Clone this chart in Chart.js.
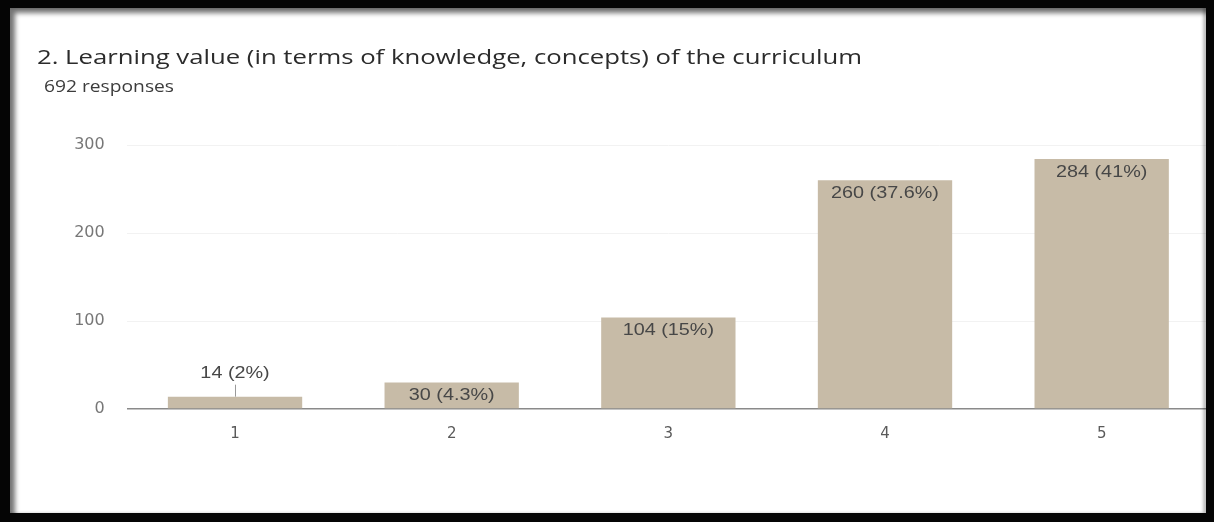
<!DOCTYPE html>
<html>
<head>
<meta charset="utf-8">
<script src="https://cdn.jsdelivr.net/npm/chart.js@4.4.1/dist/chart.umd.min.js"></script>
<style>
  html, body { margin: 0; padding: 0; background: #fff; }
  #wrap { position: relative; width: 1214px; height: 522px; overflow: hidden; background: #fff; }
  #c { position: absolute; left: 0; top: 0; }
  #frame {
    position: absolute; left: 0; top: 0; width: 1214px; height: 522px; box-sizing: border-box;
    border-style: solid; border-color: #050505;
    border-width: 8px 8px 9px 10px;
    box-shadow: inset 5px 5px 5px rgba(0,0,0,0.55), inset -3px 0 3px rgba(0,0,0,0.25);
    pointer-events: none;
  }
  .preload { position: absolute; left: -9999px; top: 0; }
</style>
</head>
<body>
<div id="wrap">
  <canvas id="c" width="1214" height="522"></canvas>
  <div id="frame"></div>
</div>
<span class="preload" style="font-family:'Open Sans'">Aa</span>
<span class="preload" style="font-family:'Liberation Sans'">Aa</span>
<span class="preload" style="font-family:'DejaVu Sans'">Aa</span>
<script>
// ---- data ----
const titleText = '2. Learning value (in terms of knowledge, concepts) of the curriculum';
const subtitleText = '692 responses';
const categories = ['1', '2', '3', '4', '5'];
const counts = [14, 30, 104, 260, 284];
const percentLabels = ['2%', '4.3%', '15%', '37.6%', '41%'];
const yTickValues = [0, 100, 200, 300];

// ---- header plugin (title + subtitle) ----
const headerPlugin = {
  id: 'header',
  afterDraw(chart) {
    const ctx = chart.ctx;
    function drawStretched(text, font, color, x, baseline, targetWidth) {
      ctx.save();
      ctx.font = font;
      ctx.fillStyle = color;
      ctx.textAlign = 'left';
      ctx.textBaseline = 'alphabetic';
      const w = ctx.measureText(text).width;
      const sx = targetWidth / w;
      ctx.translate(x, baseline);
      ctx.scale(sx, 1);
      ctx.fillText(text, 0, 0);
      ctx.restore();
    }
    drawStretched(titleText, '400 20.5px "Open Sans"', '#2b2b2b', 37, 64, 825);
    drawStretched(subtitleText, '400 15.5px "Open Sans"', '#3c3c3c', 44, 92, 130);
  }
};

// ---- value labels ----
const valueLabelPlugin = {
  id: 'valueLabels',
  afterDatasetsDraw(chart) {
    const ctx = chart.ctx;
    const meta = chart.getDatasetMeta(0);
    meta.data.forEach((el, i) => {
      const text = counts[i] + ' (' + percentLabels[i] + ')';
      const h = el.base - el.y;
      let cy;
      ctx.save();
      if (h < 20) {
        cy = el.y - 23;
        ctx.strokeStyle = '#9a9a9a';
        ctx.lineWidth = 1;
        ctx.beginPath();
        ctx.moveTo(Math.round(el.x) + 0.5, el.y - 12);
        ctx.lineTo(Math.round(el.x) + 0.5, el.y);
        ctx.stroke();
      } else {
        cy = el.y + 13;
      }
      ctx.font = '16.5px "Liberation Sans", Arial, sans-serif';
      ctx.fillStyle = '#474747';
      ctx.textAlign = 'center';
      ctx.textBaseline = 'middle';
      ctx.translate(el.x, cy);
      ctx.scale(1.2, 1);
      ctx.fillText(text, 0, 0);
      ctx.restore();
    });
  }
};

function build() {
  new Chart(document.getElementById('c'), {
    type: 'bar',
    data: {
      labels: categories,
      datasets: [{
        data: counts,
        backgroundColor: '#c7bba7',
        borderWidth: 0,
        barPercentage: 0.62,
        categoryPercentage: 1.0
      }]
    },
    options: {
      responsive: false,
      animation: false,
      events: [],
      layout: { padding: { left: 0, top: 145, right: 4, bottom: 73 } },
      plugins: { legend: { display: false }, tooltip: { enabled: false }, title: { display: false } },
      scales: {
        x: {
          afterFit: s => { s.height = 40; },
          grid: { display: false, drawTicks: false },
          border: { display: false },
          ticks: {
            padding: 16,
            color: '#5a5a5a',
            font: { family: '"DejaVu Sans"', size: 15 }
          }
        },
        y: {
          min: 0, max: 300,
          afterFit: s => { s.width = 126.7; },
          afterBuildTicks: s => { s.ticks = yTickValues.map(v => ({ value: v })); },
          grid: {
            drawTicks: false,
            color: c => (c.tick && c.tick.value === 0) ? '#8a8a8a' : '#f2f2f2',
            lineWidth: c => (c.tick && c.tick.value === 0) ? 1.5 : 1
          },
          border: { display: false },
          ticks: {
            padding: 22,
            color: '#777',
            font: { family: '"DejaVu Sans"', size: 16 }
          }
        }
      }
    },
    plugins: [headerPlugin, valueLabelPlugin]
  });
}

const fontLoads = [
  '400 20.5px "Open Sans"',
  '400 15.5px "Open Sans"',
  '16.5px "Liberation Sans"',
  '16px "DejaVu Sans"'
].map(f => document.fonts.load(f).catch(() => null));
Promise.all(fontLoads).then(build, build);
</script>
</body>
</html>
